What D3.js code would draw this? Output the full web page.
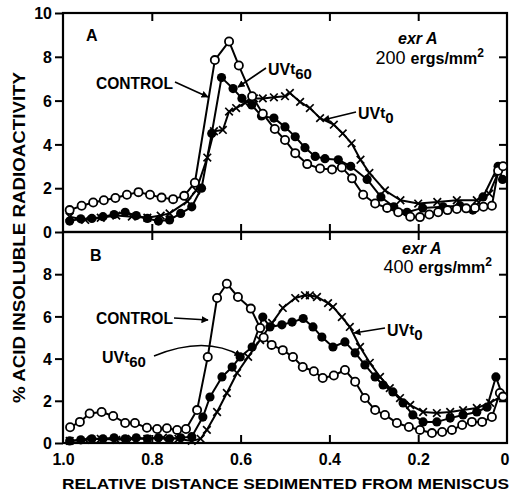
<!DOCTYPE html>
<html>
<head>
<meta charset="utf-8">
<script src="https://cdn.jsdelivr.net/npm/d3@7"></script>
<style>
  body { margin: 0; background: #fff; }
  svg { display: block; }
  text { font-family: "Liberation Sans", Arial, sans-serif; font-weight: bold; fill: #000; }
</style>
</head>
<body>
<div id="chart"></div>
<script>
// tick values / labels
const xTicks = [1.0, 0.8, 0.6, 0.4, 0.2, 0];
const yTicksA = [0, 2, 4, 6, 8, 10];
const yTicksB = [0, 2, 4, 6, 8];

// Panel A (200 ergs/mm2) - [relative distance, % acid insoluble]
const controlA = [[0.985,1.0],[0.958,1.2],[0.932,1.35],[0.908,1.45],[0.882,1.55],[0.856,1.7],[0.830,1.82],[0.804,1.7],[0.778,1.57],[0.752,1.5],[0.727,1.65],[0.703,2.25],[0.658,7.85],[0.626,8.7],[0.604,7.6],[0.574,6.2],[0.55,5.4],[0.523,4.7],[0.5,4.2],[0.477,3.6],[0.45,3.1],[0.421,2.9],[0.394,2.85],[0.372,2.95],[0.349,2.45],[0.324,1.7],[0.297,1.3],[0.27,1.1],[0.245,0.9],[0.218,0.7],[0.196,0.68],[0.175,0.8],[0.155,0.9],[0.134,1.0],[0.113,1.05],[0.092,1.08],[0.072,1.1],[0.053,1.15],[0.034,1.2],[0.02,2.8],[0.009,3.0]];
const uv60A = [[0.985,0.5],[0.96,0.6],[0.935,0.62],[0.91,0.7],[0.885,0.8],[0.86,0.9],[0.835,0.75],[0.81,0.62],[0.785,0.5],[0.76,0.55],[0.735,0.85],[0.71,1.15],[0.688,2.0],[0.665,4.5],[0.643,7.05],[0.617,6.55],[0.597,6.1],[0.575,5.8],[0.553,5.3],[0.525,5.2],[0.5,4.8],[0.477,4.35],[0.455,3.85],[0.432,3.45],[0.41,3.35],[0.38,3.3],[0.352,3.0],[0.315,2.4],[0.284,1.6],[0.255,1.15],[0.225,0.9],[0.19,1.1],[0.144,1.15],[0.106,1.2],[0.077,1.0],[0.054,1.6],[0.02,3.0],[0.01,2.4]];
const uv0A = [[0.985,0.7],[0.95,0.55],[0.915,0.65],[0.88,0.75],[0.845,0.7],[0.81,0.65],[0.78,0.75],[0.76,0.85],[0.72,1.4],[0.7,1.9],[0.675,3.4],[0.66,4.6],[0.64,4.66],[0.626,5.5],[0.61,5.66],[0.59,5.9],[0.57,6.1],[0.55,6.1],[0.525,6.15],[0.5,6.2],[0.489,6.35],[0.466,5.94],[0.444,5.66],[0.421,5.2],[0.39,4.9],[0.37,4.5],[0.35,4.05],[0.33,3.3],[0.31,2.7],[0.275,1.9],[0.24,1.45],[0.2,1.3],[0.157,1.37],[0.113,1.45],[0.068,1.45],[0.04,1.75],[0.02,2.7]];

// Panel B (400 ergs/mm2)
const controlB = [[0.984,0.75],[0.962,1.0],[0.94,1.4],[0.913,1.47],[0.887,1.28],[0.86,0.95],[0.838,0.95],[0.811,0.72],[0.788,0.66],[0.766,0.7],[0.743,0.62],[0.723,0.66],[0.698,1.56],[0.674,4.08],[0.653,6.87],[0.631,7.55],[0.606,6.92],[0.577,6.37],[0.556,5.45],[0.548,5.0],[0.53,4.65],[0.505,4.4],[0.482,4.08],[0.46,3.6],[0.435,3.4],[0.415,3.08],[0.39,3.2],[0.365,3.46],[0.342,2.9],[0.32,2.13],[0.297,1.56],[0.275,1.33],[0.248,0.95],[0.221,0.76],[0.196,0.62],[0.169,0.47],[0.146,0.52],[0.124,0.62],[0.101,0.85],[0.079,1.0],[0.056,1.0],[0.034,1.23],[0.016,2.37],[0.009,2.2]];
const uv60B = [[0.985,0.1],[0.96,0.15],[0.935,0.2],[0.91,0.2],[0.885,0.25],[0.86,0.2],[0.835,0.25],[0.81,0.2],[0.785,0.25],[0.76,0.2],[0.735,0.25],[0.71,0.3],[0.685,1.23],[0.669,2.18],[0.642,3.13],[0.619,3.6],[0.601,4.08],[0.574,4.55],[0.55,5.97],[0.534,5.5],[0.507,5.6],[0.484,5.73],[0.459,5.9],[0.437,5.5],[0.417,5.02],[0.392,4.55],[0.365,4.79],[0.342,4.27],[0.32,3.7],[0.297,3.13],[0.279,2.75],[0.257,2.42],[0.234,1.9],[0.212,1.33],[0.189,1.0],[0.158,1.0],[0.128,1.18],[0.099,1.33],[0.068,1.47],[0.045,1.7],[0.025,3.13],[0.009,2.18]];
const uv0B = [[0.985,0.1],[0.95,0.15],[0.915,0.2],[0.88,0.15],[0.845,0.2],[0.81,0.2],[0.775,0.25],[0.74,0.2],[0.71,0.1],[0.69,0.2],[0.676,0.62],[0.653,1.47],[0.631,2.37],[0.608,3.32],[0.583,4.08],[0.556,4.88],[0.529,5.69],[0.505,6.4],[0.477,6.87],[0.455,7.0],[0.444,7.0],[0.428,6.92],[0.403,6.63],[0.392,6.45],[0.372,5.97],[0.354,5.5],[0.331,4.55],[0.309,3.8],[0.286,3.13],[0.264,2.6],[0.241,2.13],[0.218,1.8],[0.189,1.47],[0.158,1.42],[0.128,1.47],[0.099,1.56],[0.068,1.66],[0.038,1.9],[0.016,2.18]];

const width = 510, height = 493;
const svg = d3.select("#chart").append("svg")
    .attr("width", width).attr("height", height);

// arrowhead
svg.append("defs").append("marker")
    .attr("id", "arrow")
    .attr("viewBox", "0 0 10 10")
    .attr("refX", 9).attr("refY", 5)
    .attr("markerWidth", 4.5).attr("markerHeight", 4.5)
    .attr("orient", "auto")
    .append("path").attr("d", "M0,0 L10,5 L0,10 z").attr("fill", "#000");

const x = d3.scaleLinear().domain([1, 0]).range([63, 507]);

function drawPanel(cfg) {
    const y = d3.scaleLinear().domain([0, 10]).range(cfg.range);
    const g = svg.append("g");

    // frame
    g.append("rect")
        .attr("x", x(1)).attr("y", y(10))
        .attr("width", x(0) - x(1)).attr("height", y(0) - y(10))
        .attr("fill", "none").attr("stroke", "#000").attr("stroke-width", 2.2);

    // left axis with labels (ticks outward)
    const left = g.append("g").attr("transform", `translate(${x(1)},0)`)
        .call(d3.axisLeft(y).tickValues(cfg.yTicks).tickSize(8).tickPadding(3).tickFormat(d3.format("d")));
    // right axis (inward ticks)
    const right = g.append("g").attr("transform", `translate(${x(0)},0)`)
        .call(d3.axisRight(y).tickValues([2, 4, 6, 8]).tickSize(-8).tickFormat(""));
    // top and bottom inward ticks
    const top = g.append("g").attr("transform", `translate(0,${y(10)})`)
        .call(d3.axisTop(x).tickValues([0.8, 0.6, 0.4, 0.2]).tickSize(-8).tickFormat(""));
    const bottom = g.append("g").attr("transform", `translate(0,${y(0)})`)
        .call(d3.axisBottom(x).tickValues(cfg.bottomLabels ? xTicks : [0.8, 0.6, 0.4, 0.2])
            .tickSize(-8).tickPadding(11)
            .tickFormat(cfg.bottomLabels ? (d => d === 0 ? "0" : d3.format(".1f")(d)) : ""));

    [left, right, top, bottom].forEach(a => {
        a.select(".domain").remove();
        a.selectAll("line").attr("stroke", "#000").attr("stroke-width", 2);
        a.selectAll("text").style("font-size", "16px").style("font-weight", "bold")
            .attr("font-family", null);
    });
    left.selectAll("text").attr("dy", "0.36em");
    if (cfg.bottomLabels) {
        bottom.selectAll(".tick").filter(d => d === 0 || d === 1).select("line").remove();
        // last label sits at the right edge
        bottom.selectAll(".tick").filter(d => d === 0).select("text")
            .attr("text-anchor", "end").attr("x", 2);
    }

    const line = d3.line().x(d => x(d[0])).y(d => y(d[1]));

    // lines
    [cfg.control, cfg.uv60, cfg.uv0].forEach(s => {
        g.append("path").datum(s)
            .attr("d", line)
            .attr("fill", "none").attr("stroke", "#000").attr("stroke-width", 2)
            .attr("stroke-linejoin", "round");
    });

    // UVt0 crosses
    g.append("g").selectAll("path").data(cfg.uv0).join("path")
        .attr("transform", d => `translate(${x(d[0])},${y(d[1])})`)
        .attr("d", "M-3.8,-3.8L3.8,3.8M-3.8,3.8L3.8,-3.8")
        .attr("stroke", "#000").attr("stroke-width", 1.7);

    // UVt60 filled circles
    g.append("g").selectAll("circle").data(cfg.uv60).join("circle")
        .attr("cx", d => x(d[0])).attr("cy", d => y(d[1]))
        .attr("r", 4.6).attr("fill", "#000");

    // control open circles
    g.append("g").selectAll("circle").data(cfg.control).join("circle")
        .attr("cx", d => x(d[0])).attr("cy", d => y(d[1]))
        .attr("r", 4.1).attr("fill", "#fff").attr("stroke", "#000").attr("stroke-width", 1.8);

    // panel letter
    g.append("text").attr("x", cfg.letterPos[0]).attr("y", cfg.letterPos[1])
        .style("font-size", "16px").text(cfg.letter);

    // strain / dose
    g.append("text").attr("x", cfg.exrPos[0]).attr("y", cfg.exrPos[1])
        .style("font-size", "16px").style("font-style", "italic").text("exr A");
    const dose = g.append("text").attr("x", cfg.dosePos[0]).attr("y", cfg.dosePos[1])
        .attr("text-anchor", "end").style("font-size", "16px");
    dose.append("tspan").style("font-weight", "normal").style("font-size", "18px").text(cfg.dose + " ");
    dose.append("tspan").text("ergs/mm");
    dose.append("tspan").attr("dy", -7).style("font-size", "12px").text("2");

    // labels with arrows
    cfg.labels.forEach(l => {
        const t = g.append("text").attr("x", l.tx).attr("y", l.ty).style("font-size", "15px");
        if (l.sub) {
            t.append("tspan").style("font-size", "16px").text("UV");
            t.append("tspan").style("font-size", "15px").attr("dy", -1).text("t");
            t.append("tspan").style("font-size", "15px").attr("dy", 5).text(l.sub);
        } else {
            t.style("font-size", "17px")
                .attr("textLength", 77).attr("lengthAdjust", "spacingAndGlyphs").text(l.text);
        }
        g.append("path")
            .attr("d", l.path)
            .attr("fill", "none").attr("stroke", "#000").attr("stroke-width", 1.6)
            .attr("marker-end", "url(#arrow)");
    });
}

drawPanel({
    range: [232, 13], yTicks: yTicksA, bottomLabels: false,
    control: controlA, uv60: uv60A, uv0: uv0A,
    letter: "A", letterPos: [86, 41],
    exrPos: [398, 44], dosePos: [484, 64], dose: "200",
    labels: [
        { text: "CONTROL", tx: 96, ty: 89, path: "M175,82 L208,97" },
        { sub: "60", tx: 268, ty: 75, path: "M266,68 L238,87" },
        { sub: "0", tx: 358, ty: 119, path: "M356,112 L323,120" }
    ]
});

drawPanel({
    range: [443, 232], yTicks: yTicksB, bottomLabels: true,
    control: controlB, uv60: uv60B, uv0: uv0B,
    letter: "B", letterPos: [90, 261],
    exrPos: [402, 254], dosePos: [492, 273], dose: "400",
    labels: [
        { text: "CONTROL", tx: 96, ty: 324, path: "M174,318 L208,320" },
        { sub: "60", tx: 102, ty: 363, path: "M154,356 Q205,335 241,356" },
        { sub: "0", tx: 387, ty: 336, path: "M385,328 L354,333" }
    ]
});

// axis titles
svg.append("text")
    .attr("x", 62).attr("y", 489)
    .attr("textLength", 447).attr("lengthAdjust", "spacingAndGlyphs")
    .style("font-size", "15px")
    .text("RELATIVE DISTANCE SEDIMENTED FROM MENISCUS");

svg.append("text")
    .attr("transform", "translate(25,403) rotate(-90)")
    .attr("textLength", 331).attr("lengthAdjust", "spacingAndGlyphs")
    .style("font-size", "16px")
    .text("% ACID INSOLUBLE RADIOACTIVITY");
</script>
</body>
</html>
